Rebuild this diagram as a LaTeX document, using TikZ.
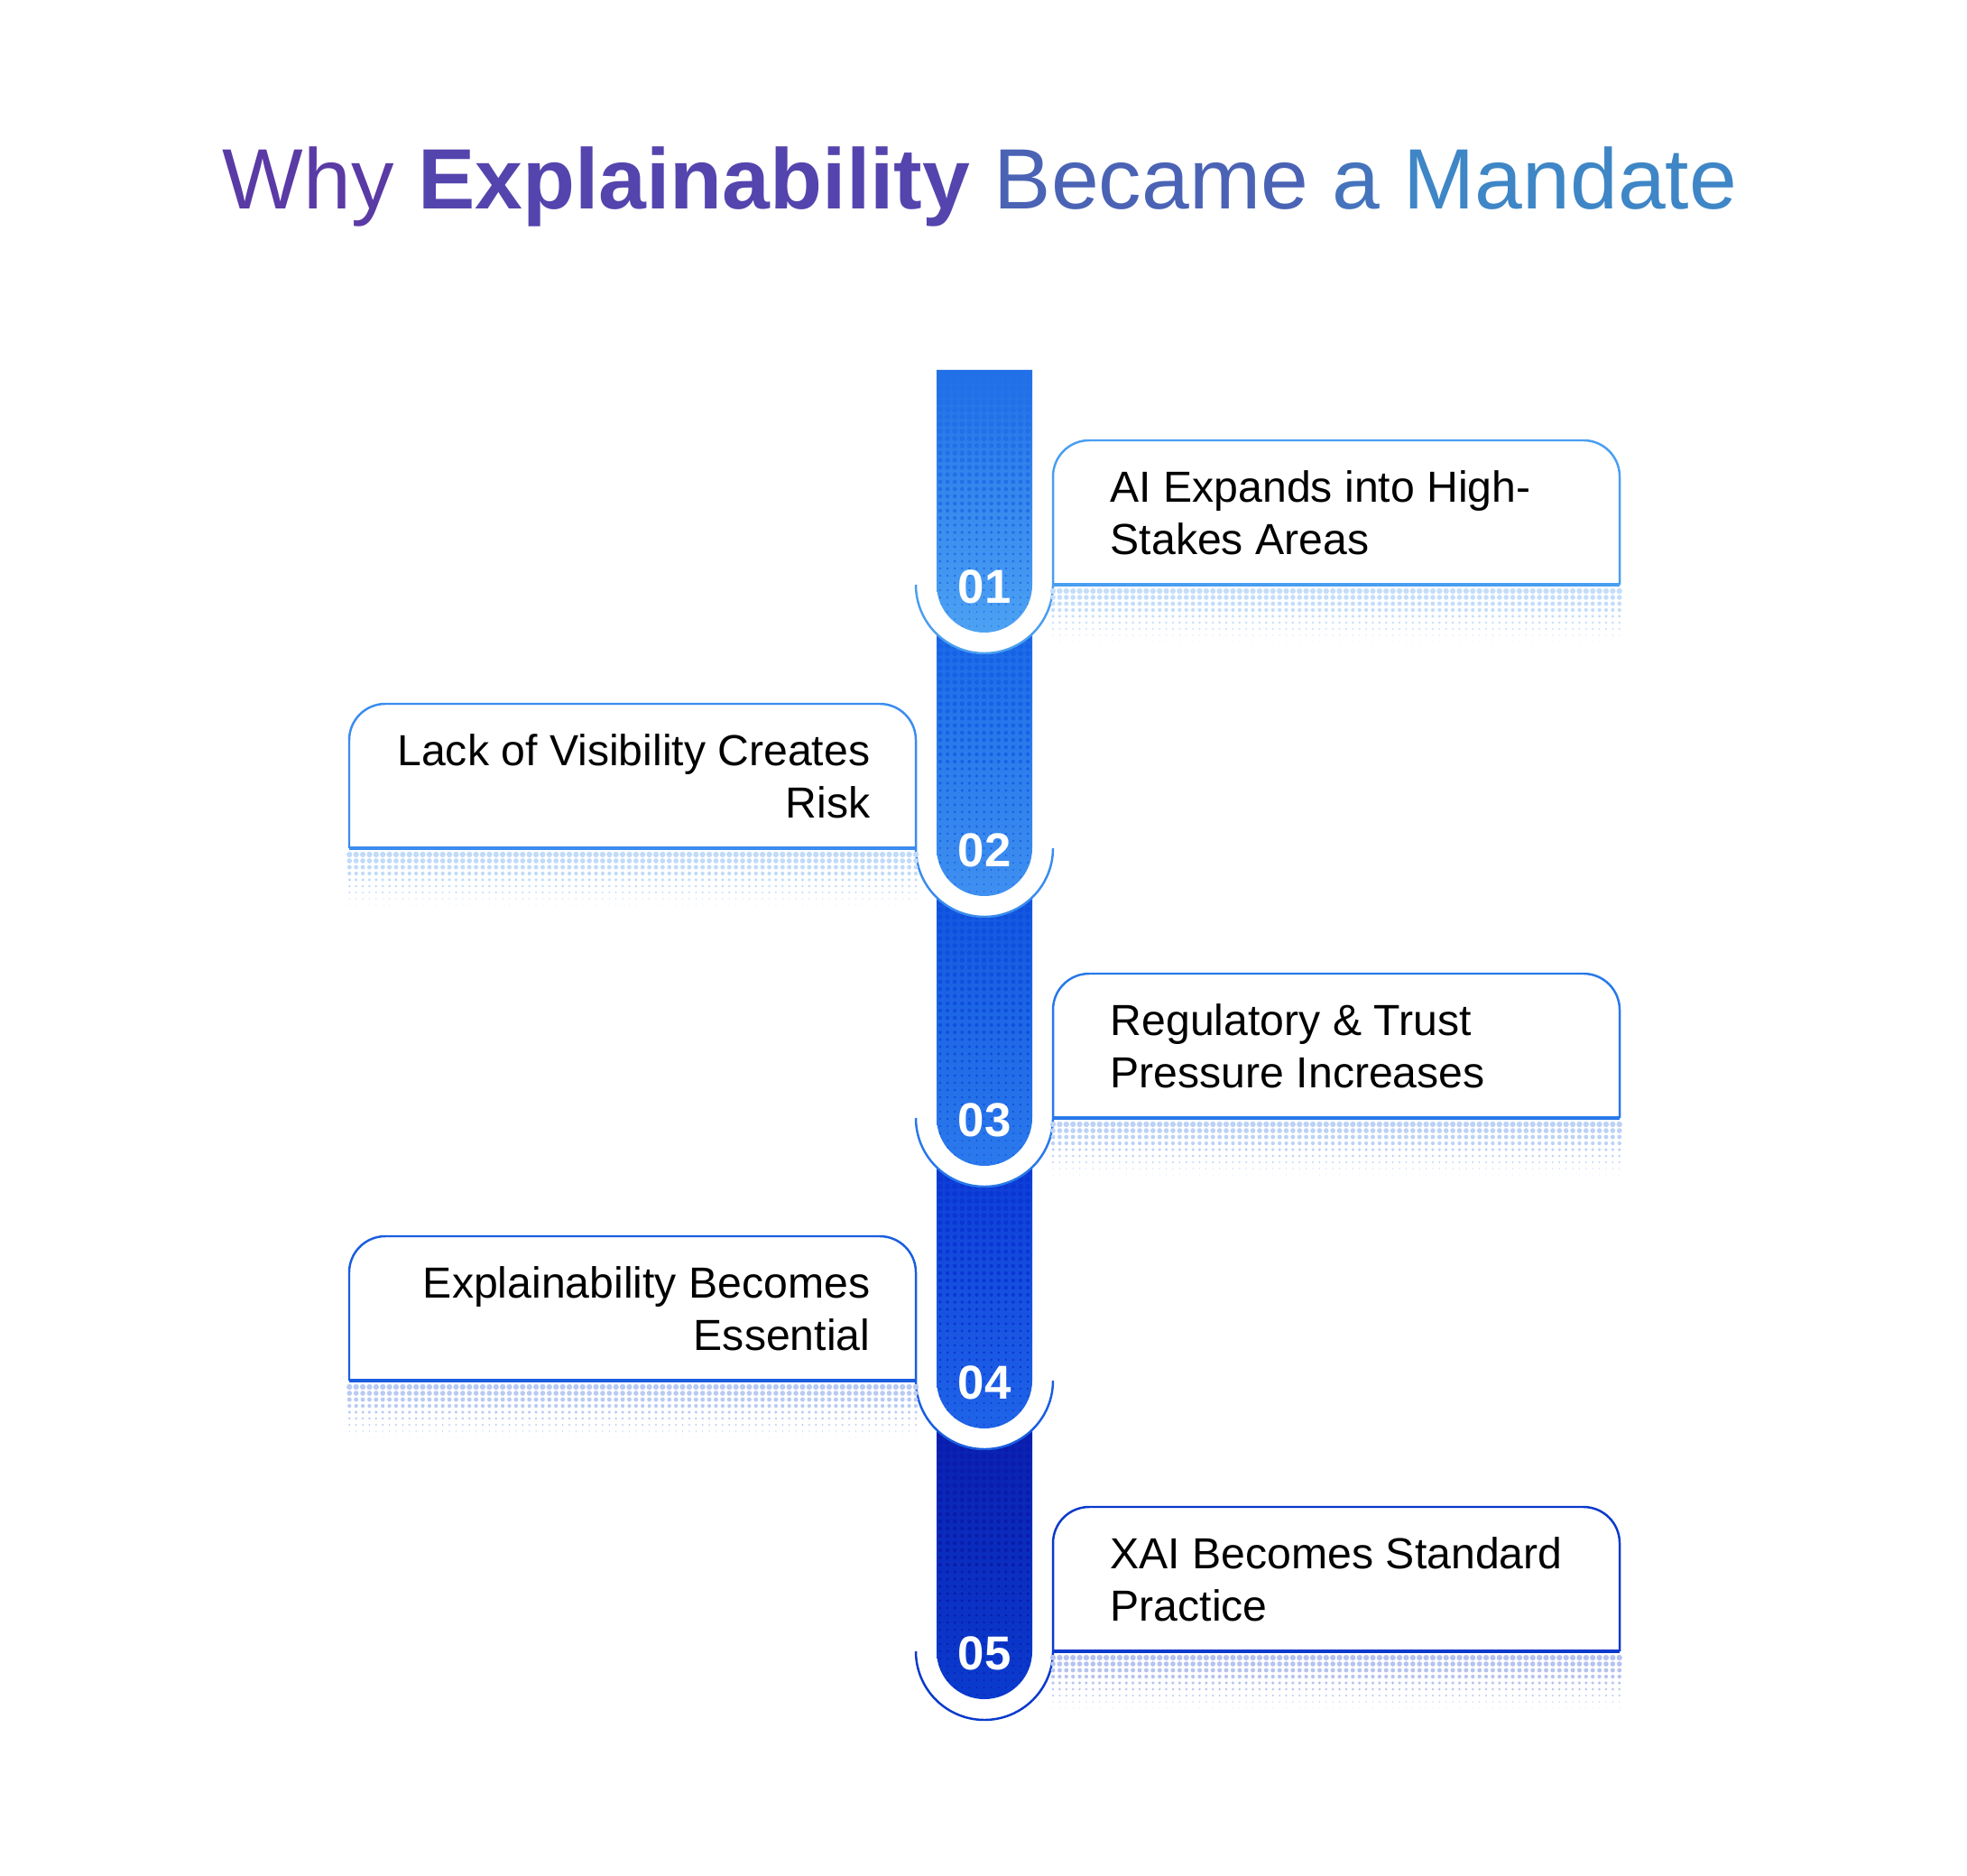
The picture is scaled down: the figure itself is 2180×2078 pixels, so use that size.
\documentclass[tikz,border=0pt]{standalone}
\usepackage{fontspec}
\setmainfont{Liberation Sans}
\usepackage{tikz}
\usetikzlibrary{positioning}

% segment colours (top / bottom of each bar piece)
\definecolor{seg1t}{HTML}{2170E8}\definecolor{seg1b}{HTML}{4DA2F3}
\definecolor{seg2t}{HTML}{1562E6}\definecolor{seg2b}{HTML}{3F90F0}
\definecolor{seg3t}{HTML}{0E50DE}\definecolor{seg3b}{HTML}{2B7AEC}
\definecolor{seg4t}{HTML}{0A36D4}\definecolor{seg4b}{HTML}{1F64E8}
\definecolor{seg5t}{HTML}{0A1CAC}\definecolor{seg5b}{HTML}{0A3BCE}
% box outlines and dot shadows
\definecolor{line1}{HTML}{4A9EF0}\definecolor{dot1}{HTML}{C4DEFA}
\definecolor{line2}{HTML}{3A8CEE}\definecolor{dot2}{HTML}{C0DAF9}
\definecolor{line3}{HTML}{2878EA}\definecolor{dot3}{HTML}{BCD2F6}
\definecolor{line4}{HTML}{1A5EE0}\definecolor{dot4}{HTML}{B9CAF3}
\definecolor{line5}{HTML}{0A3ACC}\definecolor{dot5}{HTML}{B6C3F0}
% title
\definecolor{ttl1}{HTML}{5A3AA5}\definecolor{ttl2}{HTML}{5444AD}
\definecolor{ttl3}{HTML}{4A63B5}\definecolor{ttl4}{HTML}{4573BC}
\definecolor{ttl5}{HTML}{3E86C6}

\begin{document}
\begin{tikzpicture}[
        x=0.01cm, y=0.01cm,
        steptext/.style={font=\fontsize{13.7}{16.4}\selectfont, text=black, inner sep=0pt},
        stepnum/.style={font=\fontsize{15}{15}\selectfont\bfseries, text=white, inner sep=0pt},
        boxline/.style={line width=0.7pt, rounded corners=11.4pt, fill=white},
        baseline/.style={line width=1.2pt},
        halftone/.style={line cap=round, dash pattern=on 0pt off 2.3pt}
    ]
    \useasboundingbox (0,0) rectangle (2180,2078);

    % --- Title ---
    \node[anchor=base, inner sep=0pt, font=\fontsize{27}{30}\selectfont] (title) at (1086,1846)
        {\color{ttl1}Why \textbf{\color{ttl2}Explainability} \color{ttl3}Became \color{ttl4}a \color{ttl5}Mandate};

    % --- Bar: pieces drawn bottom up, each with a white cut and a thin ring ---
    \foreach \i/\c/\t in {5/248/548, 4/548/839, 3/839/1138, 2/1138/1430, 1/1430/1668} {
        \fill[white] (1015,\c) arc (180:360:76) -- cycle;
        \draw[line\i, line width=0.7pt] (1015,\c) arc (180:360:76);
        \shade[top color=seg\i t, bottom color=seg\i b]
            (1038,\t) -- (1038,\c) arc (180:360:53) -- (1144,\t) -- cycle;
        % halftone dots, shrinking towards the number
        \begin{scope}
            \clip (1038,\t) -- (1038,\c) arc (180:360:53) -- (1144,\t) -- cycle;
            \pgfmathtruncatemacro\nrows{(\t-\c+53)/8}
            \foreach \r in {0,...,\nrows} {
                \pgfmathsetmacro\lw{2.1-1.7*\r/\nrows}
                \draw[halftone, seg\i t, line width=\lw pt] (1042,\t-4-8*\r) -- (1144,\t-4-8*\r);
            }
        \end{scope}
        \node[stepnum] (num\i) at (1091,\c-2) {0\i};
    }

    % --- Boxes with dotted shadows ---
    \foreach \i/\c/\xa/\xb in {1/1430/1167/1795, 2/1138/1015/387, 3/839/1167/1795, 4/548/1015/387, 5/248/1167/1795} {
        \draw[boxline, draw=line\i] (\xa,\c) -- (\xa,\c+160) -- (\xb,\c+160) -- (\xb,\c);
        \draw[baseline, line\i] (\xa,\c) -- (\xb,\c);
        \foreach \k in {1,...,9} {
            \pgfmathsetmacro\lw{2.0-0.2*\k}
            \draw[dot\i, line width=\lw pt, line cap=round, dash pattern=on 0pt off 2.1pt]
                (\xa,\c-7*\k) -- (\xb,\c-7*\k);
        }
    }

    % --- Step texts ---
    \node[steptext, anchor=west, align=left] (step1) at (1230,1510) {AI Expands into High-\\Stakes Areas};
    \node[steptext, anchor=east, align=right] (step2) at (965,1218) {Lack of Visibility Creates\\Risk};
    \node[steptext, anchor=west, align=left] (step3) at (1230,919) {Regulatory \& Trust\\Pressure Increases};
    \node[steptext, anchor=east, align=right] (step4) at (965,628) {Explainability Becomes\\Essential};
    \node[steptext, anchor=west, align=left] (step5) at (1230,328) {XAI Becomes Standard\\Practice};

\end{tikzpicture}
\end{document}
